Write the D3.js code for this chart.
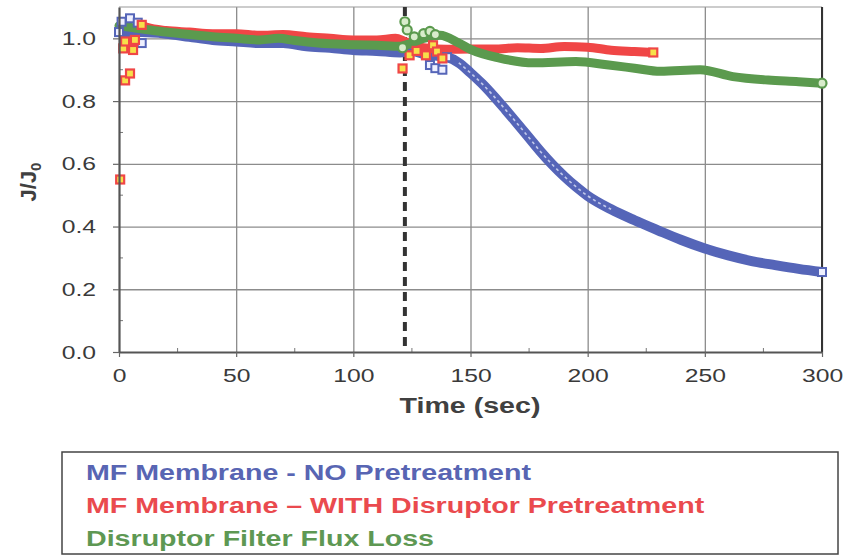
<!DOCTYPE html>
<meta charset="utf-8">
<script src="https://d3js.org/d3.v7.min.js"></script>
<style>
  body { margin: 0; background: #fff; }
  text { font-family: "Liberation Sans", Arial, sans-serif; }
</style>
<body>
<div id="my_dataviz"></div>
<script>

// ---- data: [time (sec), J/J0] ----
// MF Membrane - NO Pretreatment
var noPreBand = [[0,1.02],[10,1.02],[20,1.015],[30,1.005],[40,0.995],[50,0.99],[60,0.985],[70,0.985],[80,0.975],
  [90,0.97],[100,0.963],[110,0.96],[120,0.955],[125,0.96],[130,0.95],[135,0.945],[140,0.94],[145,0.922],[150,0.89],
  [155,0.855],[160,0.815],[165,0.772],[170,0.728],[175,0.683],[180,0.638],[185,0.597],[190,0.56],[195,0.527],
  [200,0.498],[210,0.455],[220,0.42],[230,0.388],[240,0.357],[250,0.33],[260,0.308],[270,0.29],[280,0.277],
  [290,0.265],[300,0.255]];
var noPreMarks = [[0,1.02],[1.1,1.053],[4.7,1.064],[8,1.05],[9.7,0.985],[132.7,0.915],[135,0.905],[138,0.9],[140,0.94],[300,0.255]];

// MF Membrane - WITH Disruptor Pretreatment
var withPreBand = [[10,1.04],[12,1.035],[20,1.025],[30,1.02],[40,1.015],[50,1.015],[60,1.01],[70,1.012],[80,1.005],
  [90,1.0],[100,0.995],[110,0.995],[118,1.0],[122,0.99],[130,0.97],[140,0.965],[150,0.966],[160,0.966],[170,0.97],
  [180,0.968],[190,0.974],[200,0.972],[210,0.962],[220,0.958],[228,0.955]];
var withPreMarks = [[0.5,0.55],[1.8,0.968],[2.6,0.866],[2.6,0.99],[4.7,0.888],[6,0.963],[6.8,0.995],[9.7,1.043],
  [121,0.904],[124,0.946],[127,0.96],[131,0.946],[134,0.978],[135.7,0.958],[138,0.936],[228,0.955]];

// Disruptor Filter Flux Loss
var filterBand = [[0,1.04],[5,1.035],[10,1.03],[20,1.02],[30,1.012],[40,1.005],[50,1.0],[60,0.995],[68,1.0],
  [75,0.993],[85,0.985],[100,0.98],[110,0.978],[120,0.975],[130,1.0],[137,1.01],[145,0.985],[150,0.965],
  [162,0.938],[177,0.922],[195,0.926],[209,0.915],[220,0.905],[231,0.895],[248,0.9],[262,0.878],[277,0.867],
  [290,0.862],[300,0.857]];
var filterMarks = [[121,0.97],[122,1.053],[123,1.027],[126,1.005],[130,1.015],[132.7,1.022],[135,1.012],[300,0.857]];

var disruptorTime = 122;

var xTicks = [0, 50, 100, 150, 200, 250, 300];
var yTicks = [0, 0.2, 0.4, 0.6, 0.8, 1.0];
var minorX = [25, 75, 125, 175, 225, 275];
var minorY = [0.1, 0.3, 0.5, 0.7, 0.9];

var seriesNames = ["MF Membrane - NO Pretreatment", "MF Membrane \u2013 WITH Disruptor Pretreatment", "Disruptor Filter Flux Loss"];

// ---- layout ----
var W = 846, H = 557;
var plot = {left: 119, right: 822, top: 7, bottom: 352};
var stretch = 1.3; // the original text is drawn wide

function widen(sel, k) {
  sel.each(function() {
    var w = this.getComputedTextLength();
    d3.select(this).attr("textLength", w * k).attr("lengthAdjust", "spacingAndGlyphs");
  });
}

var svg = d3.select("#my_dataviz")
  .append("svg")
    .attr("width", W)
    .attr("height", H);

var x = d3.scaleLinear().domain([0, 300]).range([plot.left, plot.right]);
var y = d3.scaleLinear().domain([0, 1.1]).range([plot.bottom, plot.top]);

// gridlines
svg.append("g")
  .attr("transform", "translate(0," + plot.bottom + ")")
  .call(d3.axisBottom(x).tickValues(xTicks.slice(1)).tickSize(-(plot.bottom - plot.top)).tickFormat(""))
  .call(function(g) { g.select(".domain").remove(); })
  .selectAll("line").attr("stroke", "#8c8c8c").attr("stroke-width", 1.3);
svg.append("g")
  .attr("transform", "translate(" + plot.left + ",0)")
  .call(d3.axisLeft(y).tickValues(yTicks.slice(1)).tickSize(-(plot.right - plot.left)).tickFormat(""))
  .call(function(g) { g.select(".domain").remove(); })
  .selectAll("line").attr("stroke", "#8c8c8c").attr("stroke-width", 1.3);

// top + right border
svg.append("line").attr("x1", plot.left).attr("x2", plot.right).attr("y1", y(1.1)).attr("y2", y(1.1))
  .attr("stroke", "#999").attr("stroke-width", 1);
svg.append("line").attr("x1", x(300)).attr("x2", x(300)).attr("y1", plot.top).attr("y2", plot.bottom)
  .attr("stroke", "#333").attr("stroke-width", 2);

// minor ticks (inside)
svg.append("g").selectAll("line").data(minorX).enter().append("line")
  .attr("x1", function(d) { return x(d); }).attr("x2", function(d) { return x(d); })
  .attr("y1", plot.bottom).attr("y2", plot.bottom - 4).attr("stroke", "#777").attr("stroke-width", 1);
svg.append("g").selectAll("line").data(minorY).enter().append("line")
  .attr("y1", function(d) { return y(d); }).attr("y2", function(d) { return y(d); })
  .attr("x1", plot.left).attr("x2", plot.left + 4).attr("stroke", "#777").attr("stroke-width", 1);

// dashed line where the disruptor kicks in
svg.append("line")
  .attr("x1", x(disruptorTime)).attr("x2", x(disruptorTime))
  .attr("y1", plot.top).attr("y2", plot.bottom)
  .attr("stroke", "#333").attr("stroke-width", 4).attr("stroke-dasharray", "9,6");

// bands (dense markers in the original)
var line = d3.line()
  .x(function(d) { return x(d[0]); })
  .y(function(d) { return y(d[1]); })
  .curve(d3.curveMonotoneX);

var blue = "#5565b8", red = "#f04646", green = "#5b9a4e";

svg.append("path").datum(noPreBand).attr("d", line)
  .attr("fill", "none").attr("stroke", blue).attr("stroke-width", 10).attr("stroke-linecap", "round");
// hollow squares show through where the blue curve falls fast
svg.append("path").datum(noPreBand.filter(function(d) { return d[0] >= 145 && d[0] <= 210; })).attr("d", line)
  .attr("fill", "none").attr("stroke", "#dde2f6").attr("stroke-width", 1.6).attr("stroke-dasharray", "3,3")
  .attr("opacity", 0.8);
svg.append("path").datum(withPreBand).attr("d", line)
  .attr("fill", "none").attr("stroke", red).attr("stroke-width", 9).attr("stroke-linecap", "round");
svg.append("path").datum(filterBand).attr("d", line)
  .attr("fill", "none").attr("stroke", green).attr("stroke-width", 9).attr("stroke-linecap", "round");

// loose markers
svg.append("g").selectAll("rect").data(noPreMarks).enter().append("rect")
  .attr("x", function(d) { return x(d[0]) - 4; }).attr("y", function(d) { return y(d[1]) - 4; })
  .attr("width", 8).attr("height", 8)
  .attr("fill", "#eef0ff").attr("stroke", blue).attr("stroke-width", 2);
svg.append("g").selectAll("rect").data(withPreMarks).enter().append("rect")
  .attr("x", function(d) { return x(d[0]) - 4; }).attr("y", function(d) { return y(d[1]) - 4; })
  .attr("width", 8).attr("height", 8)
  .attr("fill", "#f7e04a").attr("stroke", red).attr("stroke-width", 2.2);
svg.append("g").selectAll("circle").data(filterMarks).enter().append("circle")
  .attr("cx", function(d) { return x(d[0]); }).attr("cy", function(d) { return y(d[1]); })
  .attr("r", 4.5)
  .attr("fill", "#d8eccb").attr("stroke", green).attr("stroke-width", 2.2);

// axes
var xAxis = svg.append("g")
  .attr("transform", "translate(0," + plot.bottom + ")")
  .call(d3.axisBottom(x).tickValues(xTicks).tickSize(5).tickSizeOuter(0).tickPadding(12));
var yAxis = svg.append("g")
  .attr("transform", "translate(" + plot.left + ",0)")
  .call(d3.axisLeft(y).tickValues(yTicks).tickFormat(d3.format(".1f")).tickSize(6).tickSizeOuter(0).tickPadding(17));
[xAxis, yAxis].forEach(function(a) {
  a.select(".domain").attr("stroke", "#555").attr("stroke-width", 2.2);
  a.selectAll(".tick line").attr("stroke", "#666").attr("stroke-width", 1.2);
  a.selectAll(".tick text").attr("fill", "#3a3a3a").style("font-size", "19px")
    .style("font-family", "'Liberation Sans', Arial, sans-serif")
    .call(widen, stretch);
});

// axis titles
svg.append("text")
  .attr("x", 470).attr("y", 413)
  .attr("text-anchor", "middle")
  .attr("fill", "#404040")
  .style("font-size", "22px").style("font-weight", "bold")
  .text("Time (sec)")
  .call(widen, stretch);

var yt = svg.append("text")
  .attr("transform", "translate(36,182) rotate(-90)")
  .attr("text-anchor", "middle")
  .attr("fill", "#404040")
  .style("font-size", "22px").style("font-weight", "bold");
yt.append("tspan").text("J/J");
yt.append("tspan").attr("dy", 5).style("font-size", "15px").text("0");

// legend
var legend = svg.append("g");
legend.append("rect")
  .attr("x", 62).attr("y", 452).attr("width", 776).attr("height", 102)
  .attr("fill", "#fff").attr("stroke", "#444").attr("stroke-width", 1.5);
var legendColors = ["#5865b3", "#ea4a4e", "#5e9853"];
legend.selectAll("text.leg").data(seriesNames).enter().append("text")
  .attr("class", "leg")
  .attr("x", 86)
  .attr("y", function(d, i) { return 480 + i * 33; })
  .attr("fill", function(d, i) { return legendColors[i]; })
  .style("font-size", "22px").style("font-weight", "bold")
  .text(function(d) { return d; })
  .call(widen, stretch);

</script>
</body>
